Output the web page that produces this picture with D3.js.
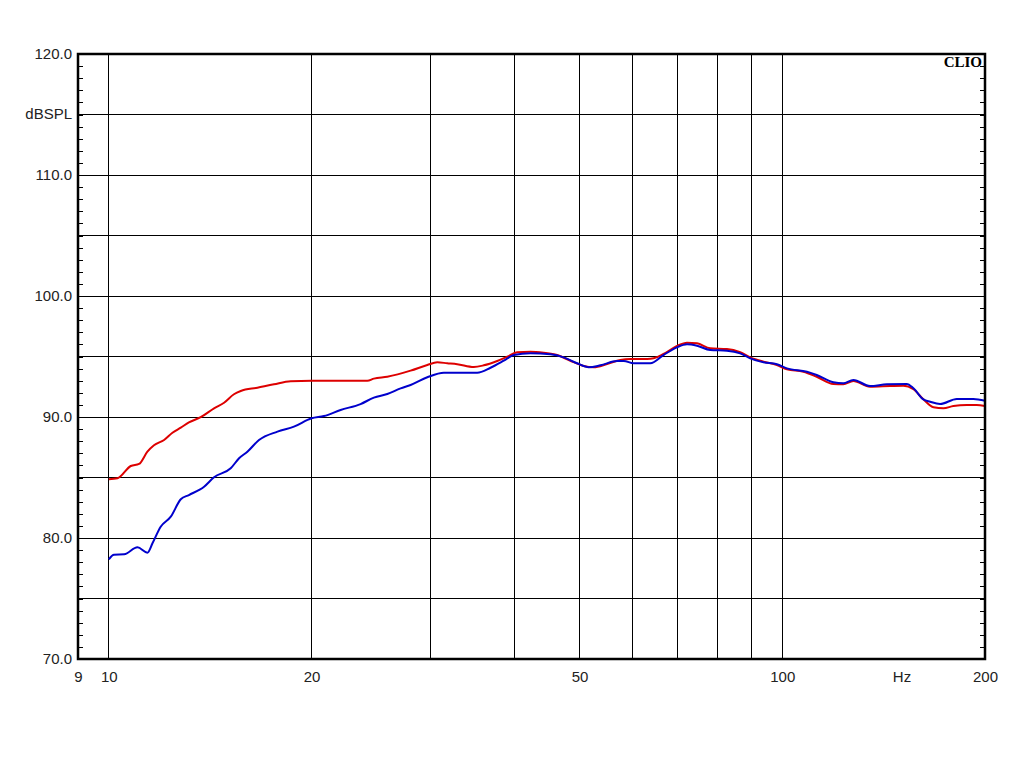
<!DOCTYPE html>
<html lang="en">
<head>
<meta charset="utf-8">
<title>CLIO response</title>
<style>
  body { margin: 0; background: #fff; }
  svg { display: block; }
  .lbl text { font-family: "Liberation Sans", Arial, sans-serif; font-size: 15px; fill: #222; }
</style>
<script src="https://cdn.jsdelivr.net/npm/d3@7"></script>
</head>
<body>
<script>
// red trace
var redFreq = [10.0, 10.3, 10.78, 11.09, 11.41, 11.67, 12.08, 12.43, 12.79, 13.15, 13.69, 14.33, 14.83, 15.34, 15.7,
  16.62, 17.59, 18.62, 20.0, 22.09, 24.2, 24.75, 25.91, 28.06, 29.71, 30.74, 31.81, 32.91, 34.83, 36.04, 37.73,
  39.05, 40.4, 42.27, 44.23, 46.31, 48.45, 50.72, 52.48, 54.94, 57.5, 59.5, 62.99, 64.41, 66.63, 69.77, 72.2,
  74.71, 78.17, 82.76, 86.6, 89.63, 93.79, 98.17, 101.6, 107.5, 112.5, 119.1, 123.2, 127.5, 135.0, 144.6, 151.3,
  156.6, 162.0, 167.7, 173.5, 179.5, 187.9, 194.4, 200];
var redDb = [84.85, 84.93, 85.95, 86.12, 87.13, 87.66, 88.10, 88.70, 89.12, 89.56, 89.98, 90.72, 91.18, 91.88, 92.15,
  92.42, 92.70, 92.95, 93.0, 93.0, 93.0, 93.17, 93.33, 93.83, 94.30, 94.52, 94.44, 94.36, 94.13, 94.27, 94.63,
  94.98, 95.35, 95.40, 95.31, 95.12, 94.65, 94.21, 94.11, 94.38, 94.71, 94.79, 94.80, 94.85, 95.21, 95.87, 96.14,
  96.09, 95.68, 95.62, 95.35, 94.93, 94.57, 94.30, 93.94, 93.74, 93.33, 92.73, 92.70, 92.98, 92.50, 92.56, 92.59,
  92.29, 91.46, 90.80, 90.72, 90.91, 90.99, 90.99, 90.91];

// blue trace
var blueFreq = [10.0, 10.18, 10.54, 11.03, 11.41, 11.61, 11.94, 12.36, 12.79, 13.15, 13.85, 14.33, 15.17, 15.61,
  16.06, 16.71, 17.8, 18.83, 20.0, 20.87, 22.09, 23.65, 24.75, 25.91, 27.12, 28.06, 29.71, 31.44, 35.24, 36.88,
  38.59, 39.93, 42.27, 45.26, 47.36, 49.58, 51.59, 53.7, 56.85, 58.15, 60.18, 63.68, 66.63, 69.77, 72.2, 74.71,
  78.17, 82.76, 86.6, 89.63, 93.79, 98.17, 101.6, 108.8, 112.5, 119.1, 123.2, 127.5, 135.0, 143.0, 153.1, 156.6,
  162.0, 165.8, 171.5, 181.6, 192.2, 200];
var blueDb = [78.24, 78.62, 78.65, 79.23, 78.79, 79.56, 80.93, 81.76, 83.2, 83.55, 84.24, 85.02, 85.76, 86.59,
  87.13, 88.1, 88.79, 89.2, 89.89, 90.08, 90.58, 91.07, 91.6, 91.9, 92.37, 92.64, 93.28, 93.66, 93.66, 94.07,
  94.65, 95.12, 95.26, 95.18, 94.93, 94.44, 94.11, 94.27, 94.63, 94.63, 94.44, 94.44, 95.12, 95.76, 96.01, 95.89,
  95.54, 95.48, 95.26, 94.85, 94.52, 94.36, 94.02, 93.74, 93.47, 92.87, 92.79, 93.06, 92.56, 92.70, 92.73, 92.37,
  91.46, 91.26, 91.07, 91.49, 91.49, 91.35];

var xTickVals = [9, 10, 20, 50, 100, 200];
var xGridVals = [10, 20, 30, 40, 50, 60, 70, 80, 90, 100];
var yTickVals = [70, 80, 90, 100, 110, 120];
var yGridVals = [75, 80, 85, 90, 95, 100, 105, 110, 115];

(function () {
  var W = 1024, H = 768;
  var pL = 78, pR = 985, pT = 54, pB = 659;

  var svg = d3.select("body").append("svg").attr("width", W).attr("height", H);

  var x = d3.scaleLog().domain([9, 200]).range([pL, pR]);
  var y = d3.scaleLinear().domain([70, 120]).range([pB, pT]);

  // snap 1px lines onto the pixel grid
  var px = function (v) { return Math.floor(v) + 0.5; };

  // grid
  var grid = svg.append("g").attr("shape-rendering", "crispEdges").attr("stroke", "#000").attr("stroke-width", 1);
  grid.selectAll("line.v").data(xGridVals).enter().append("line").attr("class", "v")
    .attr("x1", function (d) { return px(x(d)); }).attr("x2", function (d) { return px(x(d)); })
    .attr("y1", pT).attr("y2", pB);
  grid.selectAll("line.h").data(yGridVals).enter().append("line").attr("class", "h")
    .attr("y1", function (d) { return px(y(d)); }).attr("y2", function (d) { return px(y(d)); })
    .attr("x1", pL).attr("x2", pR);

  // minor ticks, 1 dB, inside the frame on both sides
  var minor = d3.range(71, 120);
  var tidy = function (g) {
    g.select(".domain").remove();
    g.selectAll("line").attr("stroke", "#000").attr("shape-rendering", "crispEdges");
  };
  svg.append("g").attr("transform", "translate(" + pL + ",0)")
    .call(d3.axisRight(y).tickValues(minor).tickSize(5).tickFormat(""))
    .call(tidy);
  svg.append("g").attr("transform", "translate(" + pR + ",0)")
    .call(d3.axisLeft(y).tickValues(minor).tickSize(5).tickFormat(""))
    .call(tidy);

  // curves
  var line = d3.line()
    .x(function (d) { return x(d[0]); })
    .y(function (d) { return y(d[1]); })
    .curve(d3.curveMonotoneX);

  svg.append("path").datum(d3.zip(redFreq, redDb))
    .attr("d", line).attr("fill", "none").attr("stroke", "#dd0000").attr("stroke-width", 2);
  svg.append("path").datum(d3.zip(blueFreq, blueDb))
    .attr("d", line).attr("fill", "none").attr("stroke", "#0000cc").attr("stroke-width", 2);

  // frame
  svg.append("rect").attr("x", pL).attr("y", pT).attr("width", pR - pL).attr("height", pB - pT)
    .attr("fill", "none").attr("stroke", "#000").attr("stroke-width", 2.5);

  // axis labels
  var xa = svg.append("g").attr("class", "lbl").attr("transform", "translate(0," + pB + ")")
    .call(d3.axisBottom(x).tickValues(xTickVals).tickSize(0).tickPadding(12).tickFormat(d3.format("d")));
  xa.select(".domain").remove();
  xa.append("text").attr("x", 902).attr("y", 12).attr("dy", "0.71em").attr("text-anchor", "middle").text("Hz");

  var ya = svg.append("g").attr("class", "lbl").attr("transform", "translate(" + pL + ",0)")
    .call(d3.axisLeft(y).tickValues(yTickVals).tickSize(0).tickPadding(6).tickFormat(d3.format(".1f")));
  ya.select(".domain").remove();
  ya.append("text").attr("x", -6).attr("y", y(115)).attr("dy", "0.32em").attr("text-anchor", "end").text("dBSPL");

  svg.append("text").attr("x", 982).attr("y", 67).attr("text-anchor", "end")
    .style("font-family", "'Liberation Serif', 'Times New Roman', serif")
    .style("font-weight", "bold").style("font-size", "15px").text("CLIO");
})();
</script>
</body>
</html>
